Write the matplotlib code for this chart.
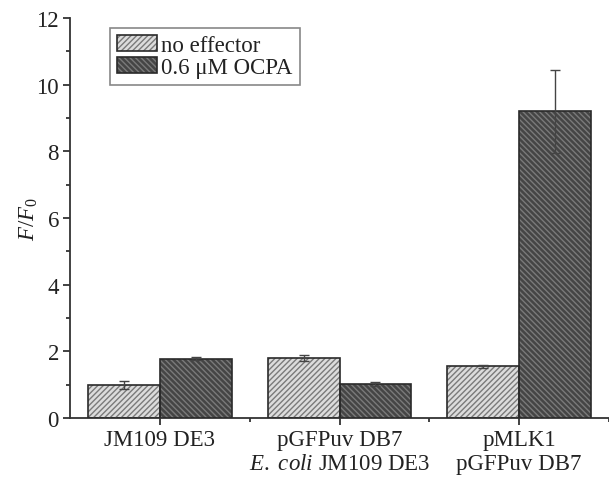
import matplotlib
matplotlib.use("Agg")
import matplotlib.pyplot as plt
from matplotlib.patches import Patch
import numpy as np

plt.rcParams['font.family'] = ['Liberation Serif', 'DejaVu Serif']
plt.rcParams['mathtext.fontset'] = 'custom'
plt.rcParams['mathtext.rm'] = 'Liberation Serif'
plt.rcParams['mathtext.it'] = 'Liberation Serif:italic'
plt.rcParams['hatch.linewidth'] = 1.0

categories = ['JM109 DE3', 'pGFPuv DB7\n$\\mathit{E.}$ $\\mathit{coli}$ JM109 DE3', 'pMLK1\npGFPuv DB7']
series_names = ['no effector', '0.6 μM OCPA']
no_effector = [1.0, 1.80, 1.55]
no_effector_err = [0.12, 0.08, 0.05]
ocpa = [1.78, 1.03, 9.2]
ocpa_err = [0.05, 0.06, 1.25]

fig = plt.figure(figsize=(6.09, 4.81), dpi=100)
ax = fig.add_axes([70/609, 1-419/481, 539/609, 400/481])

x = np.arange(1, len(categories)+1)
w = 0.4
fs = 16.5
axcol = '#333333'

styles = [
    dict(fc='#dcdcdc', hc='#7a7a7a', hatch='//////'),
    dict(fc='#454545', hc='#7a7a7a', hatch='\\\\\\\\\\\\'),
]
vals = [no_effector, ocpa]
errs = [no_effector_err, ocpa_err]
offs = [-w/2, w/2]
handles = []
for st, v, e, o in zip(styles, vals, errs, offs):
    ax.bar(x+o, v, w, color=st['fc'], edgecolor='none', zorder=2)
    ax.bar(x+o, v, w, color='none', edgecolor=st['hc'], hatch=st['hatch'], linewidth=0, zorder=3)
    ax.bar(x+o, v, w, color='none', edgecolor='#2a2a2a', linewidth=1.2, zorder=4)
    ax.errorbar(x+o, v, yerr=e, fmt='none', ecolor='#444444', elinewidth=1.0,
                capsize=3.5, capthick=1.0, zorder=5)
    handles.append((Patch(facecolor=st['fc'], edgecolor='none'),
                    Patch(facecolor='none', edgecolor=st['hc'], hatch=st['hatch'], linewidth=0),
                    Patch(facecolor='none', edgecolor='#2a2a2a', linewidth=1.2)))

ax.set_xlim(0.5, 3.5)
ax.set_ylim(0, 12)
ax.set_xticks(x)
ax.set_xticklabels(categories, fontsize=fs, color='#222222', linespacing=1.15)
ax.set_xticks([1.5, 2.5, 3.5], minor=True)
ax.set_yticks(np.arange(0, 13, 2))
ax.set_yticks(np.arange(1, 12, 2), minor=True)
ax.tick_params(axis='y', labelsize=fs, colors=axcol, labelcolor='#222222')
ax.tick_params(which='major', direction='out', length=5, width=1.3, color=axcol)
ax.tick_params(which='minor', direction='out', length=3, width=1.3, color=axcol)
ax.tick_params(axis='x', which='major', pad=3)
ax.tick_params(axis='y', which='major', pad=3)

for s in ['top', 'right']:
    ax.spines[s].set_visible(False)
for s in ['left', 'bottom']:
    ax.spines[s].set_linewidth(1.3)
    ax.spines[s].set_color(axcol)

ax.set_ylabel('$F/F_0$', fontsize=fs, color='#222222')
ax.yaxis.set_label_coords(-0.055, 0.5)

leg = ax.legend(handles, series_names, loc='upper left', bbox_to_anchor=(0.074, 0.975),
                borderaxespad=0, fontsize=fs, frameon=True, fancybox=False,
                framealpha=1, edgecolor='#888888', handlelength=1.75, handleheight=0.7,
                handletextpad=0.2, labelspacing=0.05, borderpad=0.3)
leg.get_frame().set_linewidth(1.2)
for t in leg.get_texts():
    t.set_color('#222222')

fig.savefig('out.png', dpi=100)
